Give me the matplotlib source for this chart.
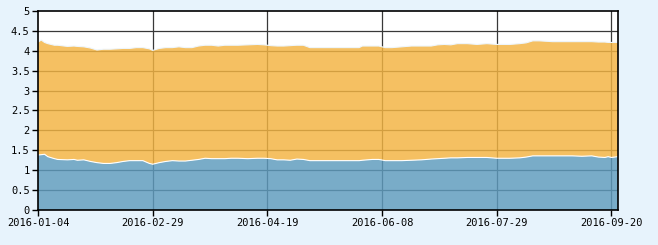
import matplotlib
matplotlib.use("Agg")
import numpy as np
import pandas as pd
import matplotlib.pyplot as plt

# trading calendar (Shanghai, 2016) - weekends plus these holidays are skipped
holidays = ['2016-01-01', '2016-02-08', '2016-02-09', '2016-02-10', '2016-02-11',
            '2016-02-12', '2016-04-04', '2016-05-02', '2016-06-09', '2016-06-10',
            '2016-09-15', '2016-09-16']
first_day = '2016-01-04'
last_day = '2016-09-22'

dates = ['2016-01-04', '2016-01-05', '2016-01-06', '2016-01-07', '2016-01-11', '2016-01-12',
         '2016-01-15', '2016-01-19', '2016-01-20', '2016-01-22', '2016-01-26', '2016-01-28',
         '2016-02-01', '2016-02-03', '2016-02-05', '2016-02-16', '2016-02-18', '2016-02-22',
         '2016-02-24', '2016-02-26', '2016-02-29', '2016-03-02', '2016-03-04', '2016-03-08',
         '2016-03-10', '2016-03-14', '2016-03-16', '2016-03-18', '2016-03-22', '2016-03-24',
         '2016-03-28', '2016-03-30', '2016-04-01', '2016-04-06', '2016-04-11', '2016-04-14',
         '2016-04-18', '2016-04-20', '2016-04-22', '2016-04-26', '2016-04-28', '2016-05-03',
         '2016-05-05', '2016-05-09', '2016-05-12', '2016-05-17', '2016-05-20', '2016-05-25',
         '2016-05-30', '2016-05-31', '2016-06-03', '2016-06-07', '2016-06-13', '2016-06-15',
         '2016-06-20', '2016-06-23', '2016-06-28', '2016-07-01', '2016-07-05', '2016-07-07',
         '2016-07-11', '2016-07-13', '2016-07-18', '2016-07-21', '2016-07-26', '2016-07-29',
         '2016-08-04', '2016-08-09', '2016-08-11', '2016-08-15', '2016-08-17', '2016-08-23',
         '2016-08-26', '2016-08-31', '2016-09-05', '2016-09-08', '2016-09-12', '2016-09-14',
         '2016-09-19', '2016-09-20', '2016-09-22']
total = [4.22, 4.27, 4.21, 4.18, 4.14, 4.14, 4.11, 4.12, 4.11, 4.10, 4.07, 4.02,
         4.04, 4.04, 4.05, 4.06, 4.06, 4.08, 4.08, 4.05, 4.01, 4.06, 4.08, 4.08,
         4.10, 4.08, 4.08, 4.12, 4.14, 4.14, 4.12, 4.14, 4.14, 4.14, 4.15, 4.16,
         4.15, 4.13, 4.12, 4.12, 4.13, 4.14, 4.14, 4.08, 4.08, 4.08, 4.08, 4.08,
         4.08, 4.12, 4.12, 4.12, 4.08, 4.08, 4.10, 4.12, 4.12, 4.12, 4.15, 4.16,
         4.15, 4.18, 4.18, 4.16, 4.18, 4.16, 4.16, 4.18, 4.20, 4.25, 4.25, 4.23,
         4.23, 4.23, 4.23, 4.23, 4.22, 4.22, 4.21, 4.21, 4.21]
lower = [1.38, 1.39, 1.40, 1.34, 1.29, 1.27, 1.26, 1.27, 1.25, 1.26, 1.22, 1.19,
         1.17, 1.17, 1.19, 1.22, 1.24, 1.24, 1.24, 1.17, 1.15, 1.19, 1.22, 1.24,
         1.23, 1.23, 1.25, 1.27, 1.30, 1.29, 1.29, 1.29, 1.30, 1.30, 1.29, 1.30,
         1.30, 1.29, 1.26, 1.26, 1.25, 1.28, 1.27, 1.24, 1.24, 1.24, 1.24, 1.24,
         1.24, 1.25, 1.27, 1.27, 1.24, 1.24, 1.24, 1.25, 1.26, 1.28, 1.29, 1.30,
         1.31, 1.31, 1.32, 1.32, 1.32, 1.30, 1.30, 1.31, 1.33, 1.36, 1.36, 1.36,
         1.36, 1.36, 1.35, 1.36, 1.33, 1.32, 1.34, 1.32, 1.34]

y_ticks = [0, 0.5, 1, 1.5, 2, 2.5, 3, 3.5, 4, 4.5, 5]
tick_every = 35  # trading days between date labels

# build trading day axis
days = pd.bdate_range(first_day, last_day)
days = days[~days.isin(pd.to_datetime(holidays))]
day_pos = {d: i for i, d in enumerate(days)}
x = np.array([day_pos[pd.Timestamp(d)] for d in dates])

lower = np.array(lower)
upper = np.array(total) - lower

bg = '#e7f3fc'
fig = plt.figure(figsize=(6.58, 2.45), dpi=100, facecolor=bg)
ax = fig.add_axes([38 / 658, 1 - 210 / 245, 580 / 658, 199 / 245])
ax.set_facecolor('white')

# grid first, areas drawn half see-through on top of it
tick_idx = list(range(0, len(days), tick_every))
for yv in y_ticks[1:-1]:
    ax.axhline(yv, color='#383838', lw=0.9, zorder=1)
for ti in tick_idx[1:]:
    ax.axvline(ti, color='#383838', lw=0.9, zorder=1)

ax.stackplot(x, lower, upper, colors=['#5e9bbd', '#f3b442'], alpha=0.83, lw=0, zorder=2)
ax.plot(x, lower, color='white', lw=0.8, zorder=3)
ax.plot(x, lower + upper, color='#eef6fc', lw=0.8, zorder=3)

ax.set_xlim(0, len(days) - 1)
ax.set_ylim(0, 5)
ax.set_yticks(y_ticks)
ax.set_yticklabels([f'{v:g}' for v in y_ticks])
ax.set_xticks(tick_idx)
ax.set_xticklabels([days[i].strftime('%Y-%m-%d') for i in tick_idx])

for sp in ax.spines.values():
    sp.set_color('black')
    sp.set_linewidth(1.2)
    sp.set_zorder(4)
ax.tick_params(direction='out', length=4, width=1, color='black',
               labelsize=7.5, pad=2)
for lbl in ax.get_xticklabels() + ax.get_yticklabels():
    lbl.set_family('DejaVu Sans Mono')

fig.savefig('out.png', dpi=100, facecolor=bg)
